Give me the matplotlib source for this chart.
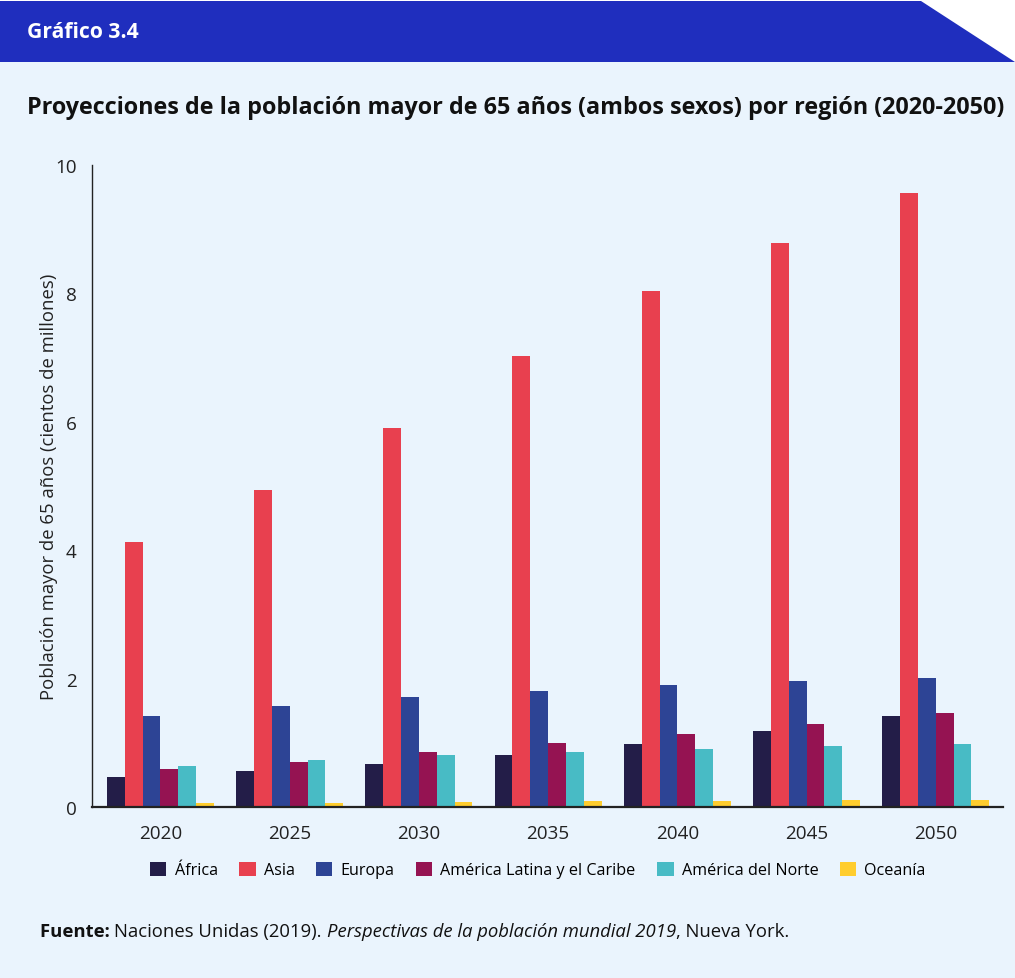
import matplotlib
matplotlib.use("Agg")
import matplotlib.pyplot as plt
import numpy as np
from matplotlib.patches import Polygon

years = ["2020", "2025", "2030", "2035", "2040", "2045", "2050"]
regions = ["África", "Asia", "Europa", "América Latina y el Caribe",
           "América del Norte", "Oceanía"]
africa = [0.47, 0.56, 0.67, 0.81, 0.98, 1.18, 1.42]
asia = [4.13, 4.94, 5.90, 7.02, 8.04, 8.79, 9.56]
europa = [1.42, 1.57, 1.71, 1.81, 1.90, 1.96, 2.01]
america_latina = [0.59, 0.70, 0.86, 1.00, 1.14, 1.29, 1.46]
america_norte = [0.64, 0.73, 0.81, 0.86, 0.90, 0.95, 0.98]
oceania = [0.06, 0.06, 0.08, 0.10, 0.09, 0.11, 0.11]
colors = ["#231D48", "#E8404F", "#2D4495", "#951352", "#48BBC5", "#FFCD2E"]

series = [africa, asia, europa, america_latina, america_norte, oceania]

plt.rcParams['font.family'] = ['Open Sans', 'Noto Sans', 'DejaVu Sans']
bg = "#EAF4FD"

fig = plt.figure(figsize=(10.15, 9.79), dpi=100, facecolor="white")

# background panel and header band
W, H = 1015, 979
def fx(x): return x / W
def fy(y): return 1 - y / H
fig.patches.append(plt.Rectangle((0, 0), 1, fy(63), transform=fig.transFigure,
                                 facecolor=bg, edgecolor="none", zorder=-5))
fig.patches.append(Polygon([(0, fy(2)), (fx(921), fy(2)), (fx(1015), fy(63)),
                            (0, fy(63))], closed=True, transform=fig.transFigure,
                           facecolor="#1F2EBE", edgecolor="none", zorder=-4))
fig.text(fx(27), fy(33), "Gráfico 3.4", color="white", fontsize=15.2,
         fontweight="bold", va="center", ha="left")
fig.text(fx(27), fy(108), "Proyecciones de la población mayor de 65 años (ambos sexos) por región (2020-2050)",
         fontsize=16.8, fontweight="bold", va="center", ha="left", color="#111111")

ax = fig.add_axes([fx(92), fy(808), fx(1003) - fx(92), fy(166) - fy(808)])
ax.set_facecolor(bg)
x = np.arange(len(years))
bw = 0.138
for i, (vals, c, name) in enumerate(zip(series, colors, regions)):
    ax.bar(x + (i - 2.5) * bw, vals, width=bw, color=c, label=name, zorder=2)

ax.set_xlim(-0.53, 6.52)
ax.set_ylim(0, 10)
ax.set_yticks([0, 2, 4, 6, 8, 10])
ax.set_xticks(x)
ax.set_xticklabels(years)
ax.tick_params(axis="both", length=0, labelsize=13.6, colors="#222222")
ax.tick_params(axis="x", pad=12.5)
ax.tick_params(axis="y", pad=11)
for s in ["top", "right"]:
    ax.spines[s].set_visible(False)
ax.spines["left"].set_color("#222222")
ax.spines["left"].set_linewidth(1.0)
ax.spines["bottom"].set_color("#222222")
ax.spines["bottom"].set_linewidth(1.6)
ax.set_ylabel("Población mayor de 65 años (cientos de millones)", fontsize=13.3,
              color="#222222")
ax.yaxis.set_label_coords(-0.037, 0.5)

handles, labels = ax.get_legend_handles_labels()
fig.legend(handles, labels, loc="center", bbox_to_anchor=(fx(538), fy(871)),
           ncol=6, frameon=False, fontsize=11.6, handlelength=1.0, handleheight=1.0,
           handletextpad=0.5, columnspacing=1.35)

# source line built from consecutive pieces
fig.canvas.draw()
r = fig.canvas.get_renderer()
parts = [("Fuente: ", "bold", "normal"),
         ("Naciones Unidas (2019). ", "normal", "normal"),
         ("Perspectivas de la población mundial 2019", "normal", "italic"),
         (", Nueva York.", "normal", "normal")]
xpos = fx(40)
for txt, wt, st in parts:
    t = fig.text(xpos, fy(932), txt, fontsize=13.3, fontweight=wt, style=st,
                 va="center", ha="left", color="#111111")
    xpos = t.get_window_extent(r).x1 / fig.bbox.width

fig.savefig("out.png", dpi=100, facecolor="white")
